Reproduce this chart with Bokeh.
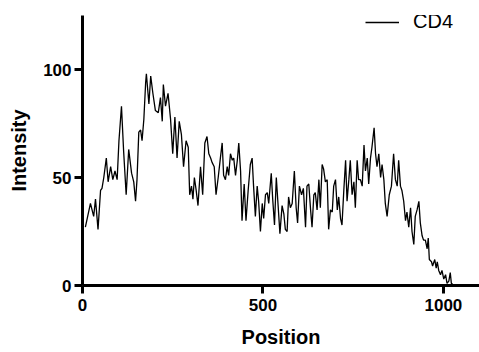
from bokeh.plotting import figure
from bokeh.models import Range1d, FixedTicker
from bokeh.embed import file_html
from bokeh.resources import INLINE

position = [8, 22, 31, 36, 43, 50, 54, 59, 66, 71, 78, 84, 90, 96, 101, 108, 114, 121, 128, 136,
            142, 147, 151, 156, 161, 165, 170, 175, 177, 184, 189, 195, 202, 210, 216, 221, 224, 230,
            237, 244, 250, 256, 262, 268, 274, 280, 287, 293, 297, 302, 306, 310, 315, 320, 327, 333,
            339, 345, 350, 355, 359, 365, 370, 376, 382, 387, 391, 396, 401, 405, 410, 415, 419, 424,
            429, 433, 438, 442, 448, 453, 459, 465, 470, 474, 479, 484, 488, 493, 498, 502, 507, 512,
            516, 523, 527, 532, 537, 542, 547, 553, 558, 562, 567, 571, 576, 581, 587, 592, 596, 601,
            607, 612, 618, 622, 627, 632, 636, 641, 645, 650, 655, 659, 664, 668, 673, 678, 682, 687,
            692, 696, 701, 706, 710, 715, 719, 724, 729, 733, 738, 742, 747, 752, 756, 761, 765, 770,
            775, 780, 784, 789, 793, 798, 802, 808, 812, 816, 821, 826, 830, 835, 839, 844, 850, 856,
            862, 867, 872, 876, 881, 885, 890, 895, 899, 904, 909, 913, 918, 922, 927, 932, 936, 941,
            945, 950, 955, 958, 961, 967, 970, 976, 980, 983, 987, 992, 996, 1001, 1006, 1010, 1015,
            1019, 1022, 1029, 1056]
intensity = [27, 38, 32, 40, 26, 44, 45, 50, 59, 48, 55, 49, 53, 49, 67, 83, 62, 42, 63, 52,
             48, 39, 49, 71, 72, 67, 77, 94, 98, 84, 97, 89, 81, 80, 87, 76, 93, 83,
             89, 77, 61, 78, 59, 76, 70, 55, 67, 64, 42, 46, 40, 50, 44, 37, 55, 42,
             66, 69, 61, 59, 57, 55, 42, 50, 59, 66, 51, 49, 55, 51, 61, 58, 59, 51,
             58, 66, 53, 30, 47, 30, 44, 56, 59, 46, 32, 46, 39, 25, 38, 31, 42, 43,
             38, 52, 40, 28, 50, 37, 24, 37, 33, 26, 25, 41, 36, 38, 53, 36, 29, 46,
             42, 45, 27, 46, 47, 35, 27, 42, 43, 35, 49, 36, 56, 54, 48, 49, 26, 35,
             34, 46, 49, 35, 41, 31, 28, 44, 58, 39, 49, 58, 42, 48, 36, 58, 49, 49,
             46, 65, 53, 59, 47, 59, 64, 73, 61, 55, 61, 50, 56, 49, 38, 32, 42, 46,
             61, 49, 46, 58, 46, 44, 39, 30, 34, 27, 36, 25, 19, 32, 35, 39, 29, 23,
             21, 21, 17, 22, 12, 11, 9, 12, 8, 11, 7, 5, 7, 3, 5, 1, 2,
             6, 1, 0, 0]
x_ticks = [0, 500, 1000]
y_ticks = [0, 50, 100]
series_name = "CD4"

FONT = "Liberation Sans"

p = figure(width=479, height=352, x_range=Range1d(0, 1100), y_range=Range1d(0, 125),
           output_backend="svg", toolbar_location=None,
           min_border_left=82, min_border_right=0, min_border_top=15, min_border_bottom=67)
p.outline_line_color = None
p.xgrid.visible = False
p.ygrid.visible = False
p.background_fill_color = "white"
p.border_fill_color = "white"

p.line(position, intensity, line_color="black", line_width=1.3, legend_label=series_name)

for ax, ticks in ((p.xaxis[0], x_ticks), (p.yaxis[0], y_ticks)):
    ax.ticker = FixedTicker(ticks=ticks)
    ax.minor_tick_line_color = None
    ax.axis_line_width = 3
    ax.axis_line_color = "black"
    ax.major_tick_line_width = 3
    ax.major_tick_line_color = "black"
    ax.major_tick_in = 0
    ax.major_tick_out = 8
    ax.major_label_text_font = FONT
    ax.major_label_text_font_style = "bold"
    ax.major_label_text_font_size = "17px"
    ax.major_label_text_color = "black"
    ax.axis_label_text_font = FONT
    ax.axis_label_text_font_style = "bold"
    ax.axis_label_text_font_size = "20px"
    ax.axis_label_text_color = "black"

p.xaxis.axis_label = "Position"
p.yaxis.axis_label = "Intensity"
p.xaxis.major_label_standoff = 5
p.xaxis.axis_label_standoff = 12
p.yaxis.major_label_standoff = 3
p.yaxis.axis_label_standoff = 10

lg = p.legend[0]
lg.location = (283, 252)
lg.border_line_color = None
lg.background_fill_alpha = 0
lg.padding = 0
lg.margin = 0
lg.glyph_width = 34
lg.label_standoff = 14
lg.label_text_font = FONT
lg.label_text_font_size = "20px"
lg.label_text_color = "black"

open("out.html", "w").write(file_html(p, INLINE))
